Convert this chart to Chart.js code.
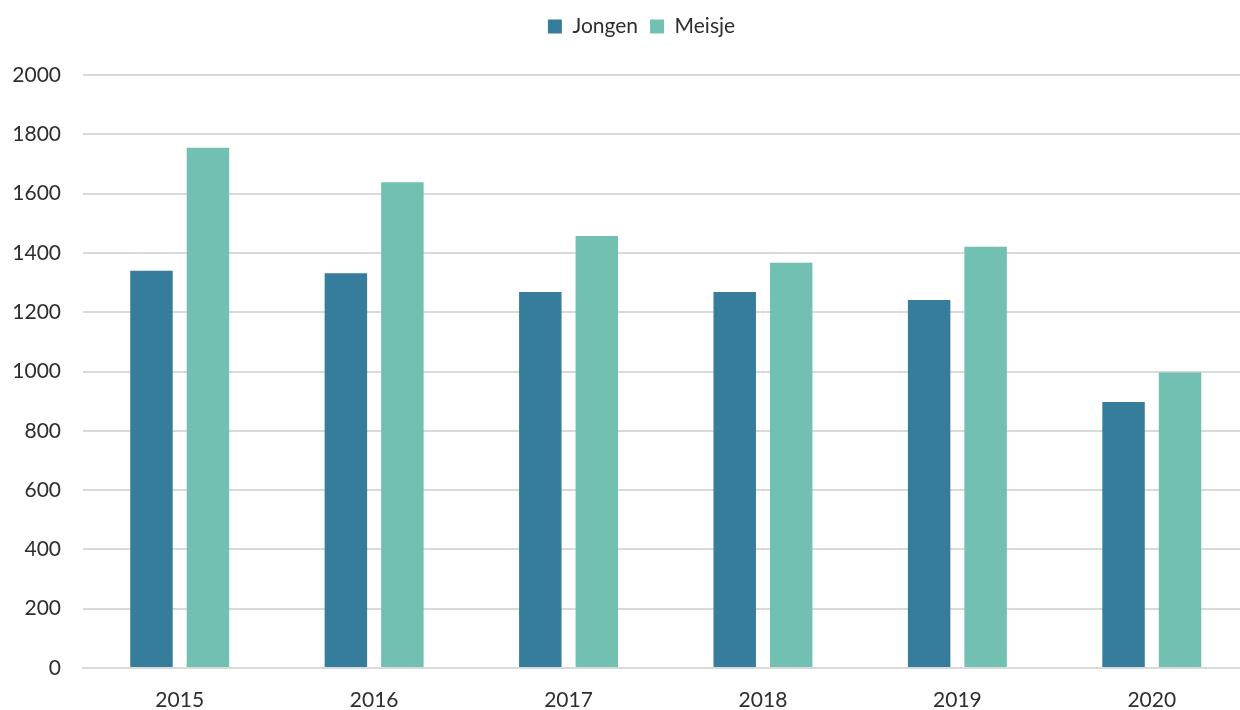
<!DOCTYPE html>
<html>
<head>
<meta charset="utf-8">
<script src="https://cdn.jsdelivr.net/npm/chart.js@4.4.1/dist/chart.umd.min.js"></script>
<style>
  html, body { margin: 0; padding: 0; background: #fff; overflow: hidden; }
  #wrap { width: 1240px; height: 710px; overflow: hidden; }
</style>
</head>
<body>
<div id="wrap"><canvas id="chart" width="1249" height="710"></canvas></div>
<script>
// Data
const years = ['2015', '2016', '2017', '2018', '2019', '2020'];
const jongen = [1340, 1331, 1268, 1268, 1241, 897];
const meisje = [1755, 1638, 1457, 1367, 1421, 997];
const yTicks = [0, 200, 400, 600, 800, 1000, 1200, 1400, 1600, 1800, 2000];

const fontFamily = "Lato, 'DejaVu Sans', sans-serif";
const fontSize = 21;
const textColor = '#2e2e2e';
const gridColor = '#d9d9d9';

// make room between legend and plot, nudge legend a bit like the original
const legendTweak = {
    id: 'legendTweak',
    afterInit(chart) {
        const lg = chart.legend;
        const fit = lg.fit;
        lg.fit = function () {
            fit.call(this);
            this.height = 75;
        };
    },
    afterLayout(chart) {
        chart.legend.left += 17;
        chart.legend.right += 17;
        chart.legend.top += 4;
        chart.legend.bottom += 4;
    },
};

const ctx = document.getElementById('chart').getContext('2d');
new Chart(ctx, {
    type: 'bar',
    data: {
        labels: years,
        datasets: [
            { label: 'Jongen', data: jongen, backgroundColor: '#357d9a' },
            { label: 'Meisje', data: meisje, backgroundColor: '#71c0b2' },
        ],
    },
    plugins: [legendTweak],
    options: {
        responsive: false,
        animation: false,
        layout: { padding: 0 },
        datasets: {
            bar: { categoryPercentage: 0.581, barPercentage: 0.752 },
        },
        plugins: {
            legend: {
                position: 'top',
                labels: {
                    boxWidth: 14,
                    boxHeight: 14,
                    padding: 12,
                    color: textColor,
                    font: { family: fontFamily, size: fontSize },
                },
            },
            tooltip: { enabled: false },
        },
        scales: {
            x: {
                afterFit: (scale) => { scale.height = 42; },
                grid: { display: false, drawTicks: false },
                border: { color: gridColor, width: 2 },
                ticks: {
                    color: textColor,
                    padding: 20,
                    font: { family: fontFamily, size: fontSize },
                },
            },
            y: {
                min: 0,
                max: 2000,
                afterBuildTicks: (scale) => {
                    scale.ticks = yTicks.map(v => ({ value: v }));
                },
                afterFit: (scale) => { scale.width = 82.5; },
                grid: { color: gridColor, lineWidth: 2, drawTicks: false },
                border: { display: false },
                ticks: {
                    color: textColor,
                    padding: 21.5,
                    font: { family: fontFamily, size: fontSize },
                    callback: (v) => String(v),
                },
            },
        },
    },
});
</script>
</body>
</html>
